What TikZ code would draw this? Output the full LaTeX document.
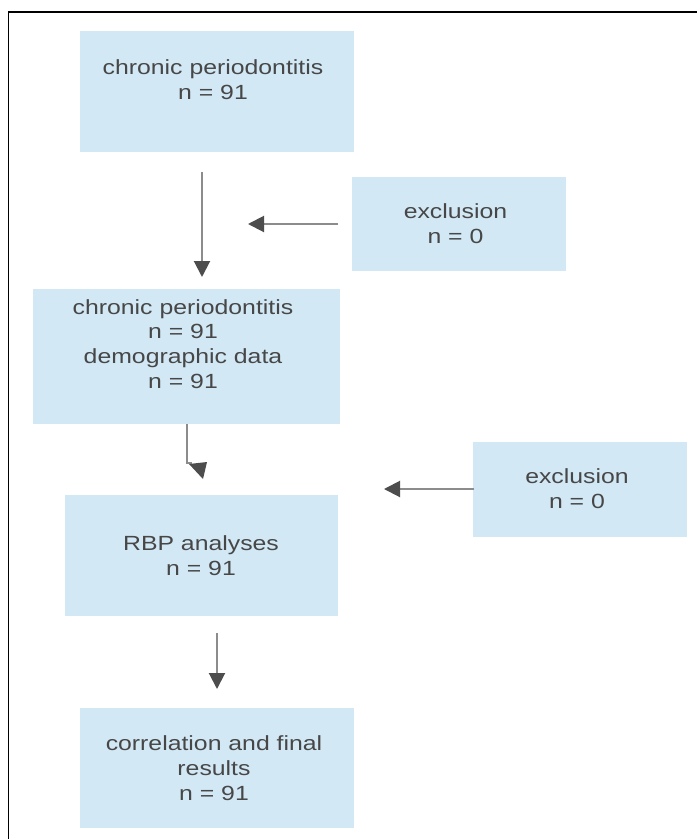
\documentclass[tikz,border=0pt]{standalone}
\usepackage{fontspec}
\setmainfont{Liberation Sans}[FakeStretch=1.21]
\usetikzlibrary{arrows.meta}
\definecolor{boxfill}{HTML}{D2E8F5}
\definecolor{txtgray}{HTML}{474747}
\definecolor{shaft}{HTML}{8C8C8C}
\definecolor{headgray}{HTML}{4D4D4D}
\begin{document}
\begin{tikzpicture}[x=1pt,y=-1pt,
  boxst/.style={fill=boxfill,draw=none,inner sep=0pt,anchor=center},
  txtst/.style={text=txtgray,align=center,inner sep=0pt,anchor=center,
    font=\fontsize{20.5}{24.7}\selectfont},
  arr/.style={draw=shaft,line width=2pt,-{Triangle[width=16pt,length=16pt,color=headgray]}}]
\useasboundingbox (0,0) rectangle (697,839);
\fill[white] (0,0) rectangle (697,839);
\draw[line width=1.6pt,black] (8.5,839) -- (8.5,12) -- (697,12);
% boxes
\node[boxst,minimum width=274pt,minimum height=121pt] (b1) at (217,91.5) {};
\node[boxst,minimum width=214pt,minimum height=94pt] (b2) at (459,224) {};
\node[boxst,minimum width=307pt,minimum height=135pt] (b3) at (186.5,356.5) {};
\node[boxst,minimum width=214pt,minimum height=95pt] (b4) at (580,489.5) {};
\node[boxst,minimum width=273pt,minimum height=121pt] (b5) at (201.5,555.5) {};
\node[boxst,minimum width=274pt,minimum height=120pt] (b6) at (217,768) {};
% texts
\node[txtst] (t1) at (213,80) {chronic periodontitis\\n = 91};
\node[txtst] (t2) at (455.5,224) {exclusion\\n = 0};
\node[txtst] (t3) at (183,344) {chronic periodontitis\\n = 91\\demographic data\\n = 91};
\node[txtst] (t4) at (577,489) {exclusion\\n = 0};
\node[txtst] (t5) at (201,556) {RBP analyses\\n = 91};
\node[txtst] (t6) at (214,768) {correlation and final\\results\\n = 91};
% connector end points
\coordinate (a1s) at (202,172);
\coordinate (a1e) at (202,277);
\coordinate (a2s) at (338,224);
\coordinate (a2e) at (248,224);
\coordinate (a3s) at (187,424);
\coordinate (a3m) at (187,463);
\coordinate (a3e) at (192,463);
\coordinate (a4s) at (474,489);
\coordinate (a4e) at (384,489);
\coordinate (a5s) at (217,633);
\coordinate (a5e) at (217,689);
\draw[arr] (a1s) -- (a1e);
\draw[arr] (a2s) -- (a2e);
\draw[draw=shaft,line width=2pt] (a3s) -- (a3m) -- (a3e);
\coordinate (h1) at (189,464);
\coordinate (h2) at (207,462);
\coordinate (h3) at (203,479);
\fill[headgray] (h1) -- (h2) -- (h3) -- cycle;
\draw[arr] (a4s) -- (a4e);
\draw[arr] (a5s) -- (a5e);
\end{tikzpicture}
\end{document}
